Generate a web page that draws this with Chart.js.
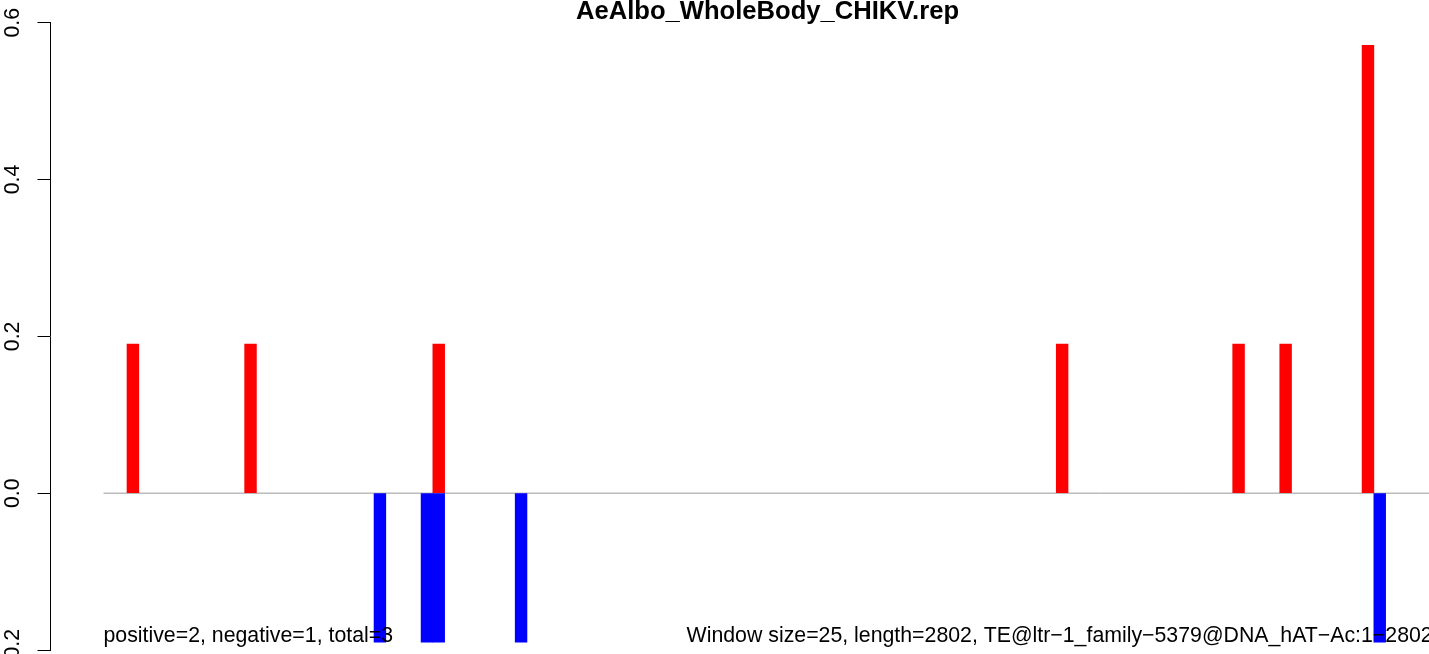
<!DOCTYPE html>
<html>
<head>
<meta charset="utf-8">
<script src="https://cdn.jsdelivr.net/npm/chart.js@4.4.1/dist/chart.umd.min.js"></script>
<style>
  html, body { margin: 0; padding: 0; background: #fff; overflow: hidden; }
  .wrap { width: 1429px; height: 654px; overflow: hidden; }
</style>
</head>
<body>
<div class="wrap"><canvas id="c" width="1535" height="654"></canvas></div>
<script>
const title = 'AeAlbo_WholeBody_CHIKV.rep'
const windowSize = 25
const seqLength = 2802
const nWindows = 113
const teName = 'TE@ltr−1_family−5379@DNA_hAT−Ac'

// window index -> value
const posWindows = [2, 12, 28, 81, 96, 100, 107]
const posValues = [0.19, 0.19, 0.19, 0.19, 0.19, 0.19, 0.571]
const negWindows = [23, 27, 28, 35, 108]
const negValues = [-0.19, -0.19, -0.19, -0.19, -0.19]

const yTicks = [-0.2, 0.0, 0.2, 0.4, 0.6]
const countText = 'positive=2, negative=1, total=3'
const infoText = `Window size=${windowSize}, length=${seqLength}, ${teName}:1−${seqLength}`

const FONT = '"Liberation Sans", Arial, Helvetica, sans-serif'

const toPoints = (idx, vals) => idx.map((w, i) => ({ x: w + 0.5, y: vals[i] }))

const bottomText = {
  id: 'bottomText',
  afterDatasetsDraw(chart) {
    const { ctx, scales: { x, y } } = chart
    ctx.save()
    ctx.font = '21.3px ' + FONT
    ctx.fillStyle = '#000'
    ctx.textBaseline = 'alphabetic'
    const base = y.bottom - 8
    ctx.textAlign = 'left'
    ctx.fillText(countText, x.getPixelForValue(0), base)
    ctx.textAlign = 'right'
    ctx.fillText(infoText, x.getPixelForValue(nWindows), base)
    ctx.restore()
  }
}

new Chart(document.getElementById('c'), {
  type: 'bar',
  data: {
    datasets: [
      { type: 'line', data: [{ x: 0, y: 0 }, { x: nWindows, y: 0 }], borderColor: '#999', borderWidth: 1, pointRadius: 0, order: 3 },
      { data: toPoints(posWindows, posValues), backgroundColor: '#ff0000', borderWidth: 0, order: 1 },
      { data: toPoints(negWindows, negValues), backgroundColor: '#0000ff', borderWidth: 0, order: 2 },
    ],
  },
  options: {
    responsive: false,
    animation: false,
    devicePixelRatio: 1,
    layout: { padding: { top: 0, bottom: 4, left: 0, right: 0 } },
    datasets: { bar: { barPercentage: 1, categoryPercentage: 1 } },
    plugins: {
      legend: { display: false },
      tooltip: { enabled: false },
      title: {
        display: true, text: title, color: '#000',
        font: { family: FONT, size: 25.6, weight: 'bold', lineHeight: 1.2 },
        padding: { top: -3, bottom: -5.02 },
      },
    },
    scales: {
      x: {
        type: 'linear', min: -4.506, max: 121.7, offset: false, bounds: 'data',
        stacked: true, display: false, grid: { offset: false },
      },
      y: {
        stacked: true, min: -0.2, max: 0.6,
        afterFit: s => { s.width = 50.5; s.paddingTop = 0; s.paddingBottom = 0 },
        afterBuildTicks: s => { s.ticks = yTicks.map(v => ({ value: v })) },
        border: { display: true, color: '#000', width: 1 },
        grid: { drawOnChartArea: false, color: '#000', tickLength: 13, tickWidth: 1 },
        ticks: {
          color: '#000', font: { family: FONT, size: 21.3 },
          minRotation: 90, maxRotation: 90, crossAlign: 'center', padding: 3,
          callback: v => v.toFixed(1).replace('-', '−'),
        },
      },
    },
  },
  plugins: [bottomText],
})
</script>
</body>
</html>
